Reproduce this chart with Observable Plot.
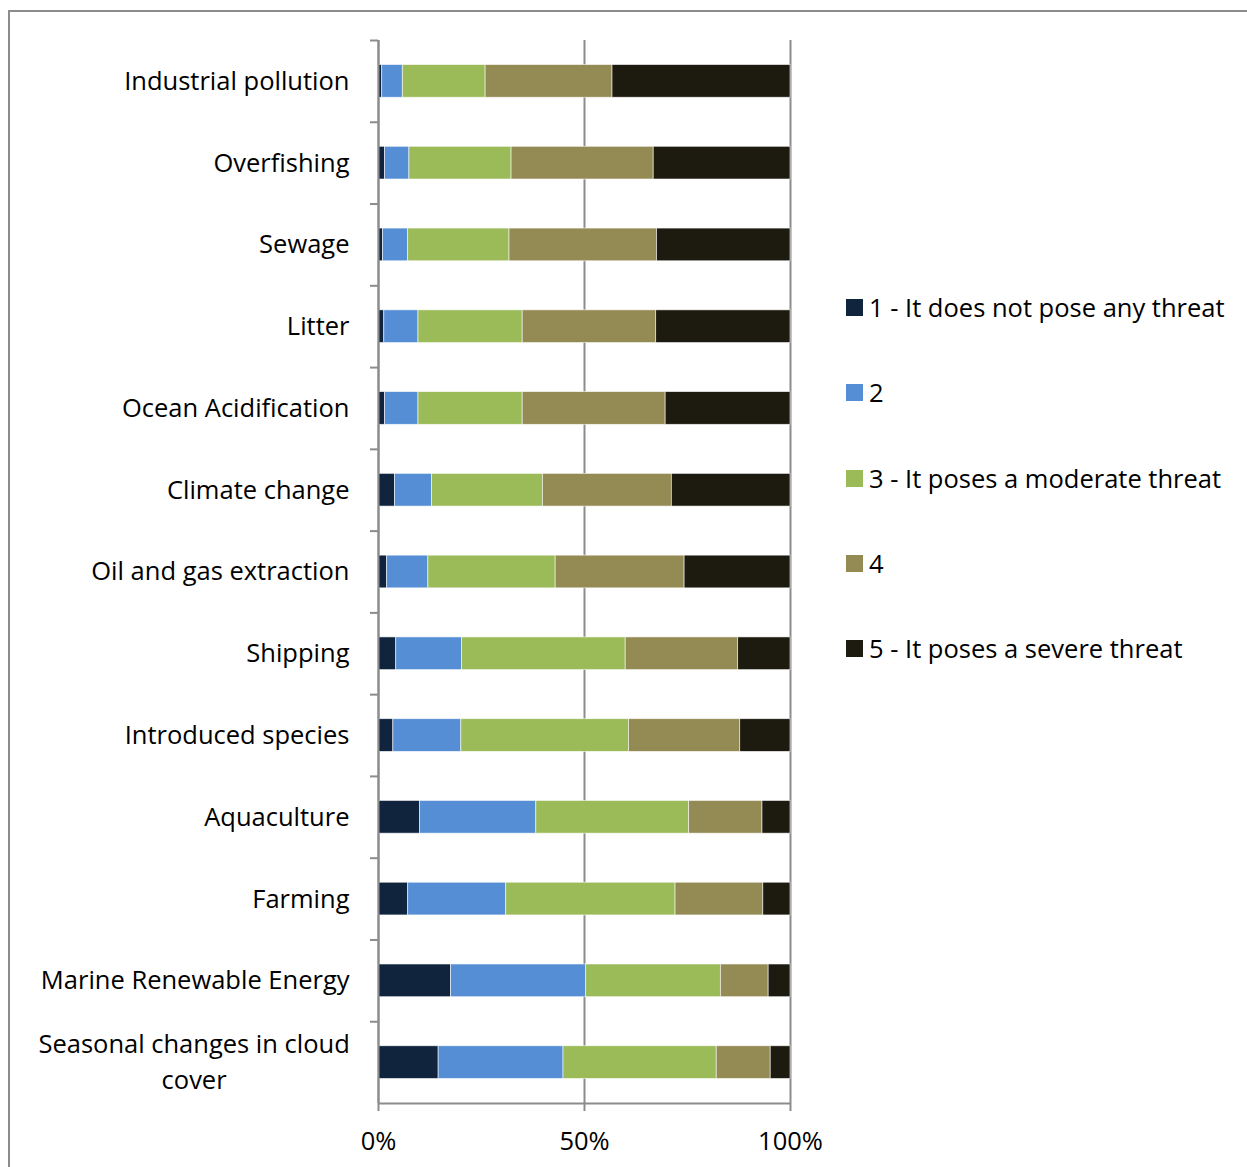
<!DOCTYPE html>
<html><head><meta charset="utf-8">
<script src="https://cdn.jsdelivr.net/npm/d3@7"></script>
<script src="https://cdn.jsdelivr.net/npm/@observablehq/plot@0.6"></script>
<style>
body{margin:0;background:#fff;font-family:"Open Sans",sans-serif;}
#wrap{position:relative;width:1247px;height:1167px;overflow:hidden;background:#fff;}
#border{position:absolute;left:8px;top:10px;width:1260px;height:1180px;border:2px solid #8c8c8c;box-sizing:border-box;}
#chart{position:absolute;left:0;top:0;}
#legend{position:absolute;left:846px;top:0;}
.item{position:absolute;left:0;white-space:nowrap;display:flex;align-items:center;height:34px;font-size:25.5px;color:#000;}
.sw{width:17px;height:17px;margin-right:6px;flex:none;}
</style>
</head><body>
<div id="wrap"><div id="border"></div><div id="chart"></div><div id="legend"></div></div>
<script>
const categories = ["Industrial pollution","Overfishing","Sewage","Litter","Ocean Acidification","Climate change","Oil and gas extraction","Shipping","Introduced species","Aquaculture","Farming","Marine Renewable Energy","Seasonal changes in cloud\ncover"];
const levels = ["1 - It does not pose any threat","2","3 - It poses a moderate threat","4","5 - It poses a severe threat"];
const colors = ["#10243e","#558ed5","#9bbb59","#948a54","#1d1b10"];
const level1 = [0.9,1.6,1.1,1.4,1.6,4.0,2.1,4.3,3.6,10.1,7.2,17.6,14.6];
const level2 = [5.0,5.9,6.1,8.3,8.1,9.0,10.0,16.0,16.5,28.2,23.8,32.8,30.3];
const level3 = [20.1,24.8,24.6,25.3,25.3,26.9,30.9,39.7,40.7,37.1,41.1,32.7,37.2];
const level4 = [30.8,34.5,35.8,32.4,34.7,31.3,31.3,27.3,27.0,17.8,21.3,11.6,13.1];
const level5 = [43.2,33.2,32.4,32.6,30.3,28.8,25.7,12.7,12.2,6.8,6.6,5.3,4.8];
const xTicks = [0, 0.5, 1];

const series = [level1, level2, level3, level4, level5];
const table = [];
categories.forEach((c, i) => levels.forEach((l, j) => table.push({category: c, level: l, value: series[j][i]})));

const W = 1247, H = 1167, mT = 40, mB = 64, mL = 378, mR = 457;
const step = (H - mT - mB) / categories.length;
const gray = "#8c8c8c";

const plot = Plot.plot({
  width: W, height: H,
  marginTop: mT, marginBottom: mB, marginLeft: mL, marginRight: mR,
  style: {fontFamily: "'Open Sans', sans-serif", fontSize: "25.5px", color: "#000", background: "transparent"},
  x: {domain: [0, 1], axis: null, label: null},
  y: {domain: categories, paddingInner: 0.6, paddingOuter: 0.3, round: false, axis: null, label: null},
  color: {domain: levels, range: colors},
  marks: [
    Plot.ruleX(xTicks, {stroke: gray, strokeWidth: 2}),
    Plot.barX(table, Plot.stackX({y: "category", x: "value", fill: "level", offset: "normalize", stroke: "#fff", strokeWidth: 0.8, strokeOpacity: 0.7})),
    Plot.ruleX([0], {stroke: gray, strokeWidth: 2}),
    Plot.ruleY([categories[categories.length - 1]], {y: d => d, x1: 0, x2: 1, dy: step / 2, stroke: gray, strokeWidth: 2}),
    Plot.axisY({tickSize: 8, tickFormat: () => "", label: null, dy: -step / 2, stroke: gray, strokeWidth: 2}),
    Plot.axisY({tickSize: 0, tickPadding: 29, label: null, lineHeight: 1.4, dy: -3, fill: "#000"}),
    Plot.axisX({ticks: xTicks, tickSize: 8, tickPadding: 20, label: null, tickFormat: d3.format(".0%"), stroke: gray, strokeWidth: 2, fill: "#000"})
  ]
});
document.getElementById("chart").appendChild(plot);

// center-align multi-line category labels
plot.querySelectorAll("text").forEach(t => {
  const ts = t.querySelectorAll("tspan");
  if (ts.length > 1) {
    const bb = t.getBBox();
    t.setAttribute("text-anchor", "middle");
    ts.forEach(s => s.setAttribute("x", bb.x + bb.width / 2));
  }
});

const legend = document.getElementById("legend");
const legendY = [308, 393, 479, 564, 649];
levels.forEach((l, j) => {
  const d = document.createElement("div");
  d.className = "item";
  d.style.top = (legendY[j] - 18) + "px";
  d.innerHTML = `<span class="sw" style="background:${colors[j]}"></span><span>${l}</span>`;
  legend.appendChild(d);
});
</script>
</body></html>
